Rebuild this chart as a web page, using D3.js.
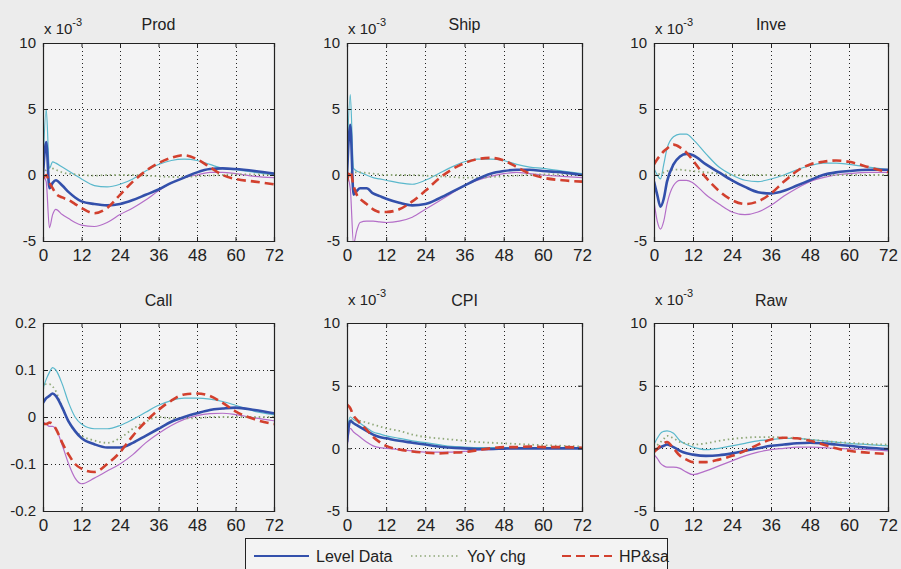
<!DOCTYPE html>
<html>
<head>
<meta charset="utf-8">
<script src="https://cdn.jsdelivr.net/npm/d3@7/dist/d3.min.js"></script>
<style>
  body { margin: 0; background: #ececec; }
  svg { display: block; font-family: 'Liberation Sans', Arial, sans-serif; }
</style>
</head>
<body>
<div id="chart"></div>
<script>
/* globals d3 */

// horizon in months
let months = [0, 1, 2, 3, 4, 6, 8, 10, 12, 16, 20, 24, 28, 32, 36, 40, 44, 48, 52, 56, 60, 66, 72]
let xTicks = [0, 12, 24, 36, 48, 60, 72]
let seriesNames = ['Level Data', 'YoY chg', 'HP&sa']

// values in units of 1e-3 (except Call)
let prodLevel = [0, 2.5, -1.0, -0.6, -0.4, -0.8, -1.3, -1.7, -2.0, -2.2, -2.3, -2.2, -1.9, -1.5, -1.1, -0.6, -0.2, 0.2, 0.45, 0.5, 0.45, 0.3, 0.1]
let prodYoy = [0, 0.4, 0.6, 0.5, 0.4, 0.2, 0.1, 0.05, 0, -0.05, 0, 0, 0, -0.05, -0.1, -0.15, -0.15, -0.1, -0.05, 0, 0.05, 0.05, 0]
let prodHp = [-0.3, 0, -0.6, -1.0, -1.4, -1.7, -1.9, -2.2, -2.5, -2.9, -2.5, -1.5, -0.5, 0.3, 0.9, 1.3, 1.5, 1.2, 0.6, 0.0, -0.3, -0.5, -0.7]
let prodUp = [0.5, 5.0, 0.5, 1.0, 0.9, 0.6, 0.3, 0.0, -0.3, -0.8, -0.9, -0.7, -0.3, 0.3, 0.8, 1.1, 1.2, 1.1, 0.8, 0.5, 0.4, 0.2, 0.0]
let prodLo = [0, -0.5, -4.0, -3.0, -2.6, -3.0, -3.3, -3.6, -3.8, -3.9, -3.6, -3.0, -2.5, -1.9, -1.2, -0.6, -0.2, 0.0, 0.2, 0.2, 0.1, -0.1, -0.2]

let shipLevel = [0, 3.8, -1.5, -1.2, -1.0, -1.0, -1.4, -1.6, -1.8, -2.1, -2.3, -2.2, -1.8, -1.3, -0.8, -0.3, 0.1, 0.3, 0.4, 0.4, 0.3, 0.2, 0.0]
let shipYoy = [0, 0.2, 0.2, 0.2, 0.2, 0.15, 0.1, 0.05, 0, 0, 0, -0.05, -0.1, -0.15, -0.2, -0.2, -0.15, -0.1, -0.05, 0, 0.05, 0.05, 0]
let shipHp = [-0.5, 0.3, -0.8, -1.5, -1.8, -2.2, -2.6, -2.8, -2.8, -2.6, -2.0, -1.2, -0.3, 0.4, 0.9, 1.2, 1.3, 1.1, 0.6, 0.1, -0.2, -0.4, -0.5]
let shipUp = [1, 6.1, 0.5, 0.3, 0.2, 0.0, -0.2, -0.3, -0.4, -0.6, -0.7, -0.4, 0.1, 0.6, 1.0, 1.2, 1.2, 1.1, 0.8, 0.6, 0.5, 0.3, 0.1]
let shipLo = [0, -1, -5.2, -4.2, -3.6, -3.5, -3.5, -3.55, -3.6, -3.5, -3.2, -2.6, -2.0, -1.4, -0.8, -0.4, -0.1, 0.1, 0.2, 0.1, 0.0, -0.1, -0.2]

let inveLevel = [-0.5, -1.5, -2.4, -1.8, -0.5, 0.8, 1.4, 1.6, 1.5, 0.8, 0.2, -0.4, -0.9, -1.3, -1.4, -1.2, -0.8, -0.4, 0.0, 0.2, 0.3, 0.4, 0.4]
let inveYoy = [0, 0.05, 0.1, 0.2, 0.3, 0.4, 0.4, 0.35, 0.3, 0.2, 0.1, 0, 0, 0, 0, -0.05, -0.1, -0.1, -0.05, 0, 0, 0, 0]
let inveHp = [0.8, 1.2, 1.5, 1.8, 2.0, 2.3, 2.1, 1.7, 1.1, -0.2, -1.2, -1.9, -2.2, -2.0, -1.4, -0.5, 0.3, 0.8, 1.0, 1.1, 1.0, 0.6, 0.2]
let inveUp = [0.5, 0, -0.3, 0.8, 2.0, 2.9, 3.1, 3.1, 2.7, 1.6, 0.6, 0, -0.4, -0.5, -0.3, 0, 0.4, 0.7, 0.9, 0.9, 0.8, 0.6, 0.4]
let inveLo = [-2, -3.5, -4.1, -3.5, -2.2, -0.8, -0.4, -0.4, -0.6, -1.5, -2.2, -2.8, -3.0, -2.8, -2.3, -1.6, -1.0, -0.5, -0.2, 0, 0.1, 0.2, 0.2]

let callLevel = [0.03, 0.04, 0.045, 0.05, 0.045, 0.02, -0.01, -0.03, -0.045, -0.058, -0.065, -0.065, -0.055, -0.04, -0.025, -0.01, 0, 0.008, 0.015, 0.018, 0.02, 0.015, 0.008]
let callYoy = [0.06, 0.07, 0.07, 0.065, 0.055, 0.02, -0.01, -0.03, -0.04, -0.05, -0.055, -0.045, -0.025, -0.01, 0, -0.003, -0.003, -0.003, 0, 0, 0, 0, 0]
let callHp = [-0.015, -0.015, -0.012, -0.015, -0.025, -0.055, -0.08, -0.1, -0.11, -0.117, -0.1, -0.075, -0.04, -0.01, 0.015, 0.035, 0.048, 0.05, 0.045, 0.03, 0.012, -0.005, -0.015]
let callUp = [0.06, 0.08, 0.095, 0.105, 0.1, 0.07, 0.03, 0, -0.015, -0.025, -0.025, -0.018, -0.005, 0.01, 0.025, 0.035, 0.04, 0.04, 0.038, 0.033, 0.025, 0.012, 0.005]
let callLo = [-0.01, -0.015, -0.02, -0.02, -0.025, -0.06, -0.1, -0.13, -0.142, -0.13, -0.115, -0.1, -0.08, -0.055, -0.035, -0.018, -0.005, 0.003, 0.007, 0.008, 0.005, -0.002, -0.008]

let cpiLevel = [0.5, 2.2, 2.0, 1.85, 1.7, 1.4, 1.1, 0.9, 0.8, 0.6, 0.45, 0.3, 0.15, 0.05, 0, -0.05, -0.05, -0.02, 0, 0, 0, 0, 0]
let cpiYoy = [2.0, 2.2, 2.3, 2.25, 2.2, 2.05, 1.9, 1.75, 1.6, 1.4, 1.1, 0.9, 0.8, 0.7, 0.6, 0.5, 0.45, 0.4, 0.35, 0.3, 0.25, 0.2, 0.15]
let cpiHp = [3.5, 3.2, 2.6, 2.3, 2.0, 1.5, 0.9, 0.5, 0.2, -0.1, -0.25, -0.35, -0.4, -0.35, -0.3, -0.15, 0, 0.1, 0.1, 0.15, 0.1, 0.1, 0.05]
let cpiUp = [1.5, 2.5, 2.3, 2.15, 2.0, 1.65, 1.3, 1.15, 1.0, 0.8, 0.6, 0.45, 0.3, 0.15, 0.1, 0.05, 0.05, 0.05, 0.05, 0.05, 0.05, 0.05, 0.05]
let cpiLo = [0, 1.6, 1.3, 1.1, 0.9, 0.5, 0.2, 0.05, 0, -0.1, -0.2, -0.3, -0.3, -0.3, -0.25, -0.15, -0.1, -0.05, 0, 0, 0, 0, 0]

let rawLevel = [-0.2, -0.05, 0.1, 0.2, 0.3, 0.1, -0.2, -0.4, -0.5, -0.6, -0.55, -0.4, -0.2, 0, 0.2, 0.3, 0.4, 0.45, 0.4, 0.3, 0.2, 0.05, -0.05]
let rawYoy = [0, 0.25, 0.5, 0.75, 1.0, 0.8, 0.5, 0.4, 0.3, 0.4, 0.6, 0.75, 0.85, 0.9, 0.9, 0.85, 0.8, 0.7, 0.6, 0.5, 0.45, 0.35, 0.3]
let rawHp = [-0.3, -0.05, 0.2, 0.4, 0.5, 0, -0.6, -0.9, -1.1, -1.1, -0.9, -0.6, -0.2, 0.3, 0.7, 0.85, 0.8, 0.6, 0.3, 0, -0.2, -0.35, -0.45]
let rawUp = [0.3, 0.8, 1.2, 1.35, 1.4, 1.2, 0.6, 0.3, 0.1, -0.1, 0, 0.2, 0.4, 0.6, 0.7, 0.8, 0.8, 0.7, 0.6, 0.5, 0.4, 0.3, 0.2]
let rawLo = [-0.5, -0.8, -1.2, -1.4, -1.5, -1.5, -1.6, -1.9, -2.1, -1.8, -1.4, -1.0, -0.6, -0.3, -0.1, 0, 0.1, 0.1, 0.05, 0, -0.05, -0.1, -0.2]

let smallTicks = [-5, 0, 5, 10]
let callTicks = [-0.2, -0.1, 0, 0.1, 0.2]

let panels = [
  { title: 'Prod', sci: true, ticks: smallTicks, level: prodLevel, yoy: prodYoy, hp: prodHp, up: prodUp, lo: prodLo },
  { title: 'Ship', sci: true, ticks: smallTicks, level: shipLevel, yoy: shipYoy, hp: shipHp, up: shipUp, lo: shipLo },
  { title: 'Inve', sci: true, ticks: smallTicks, level: inveLevel, yoy: inveYoy, hp: inveHp, up: inveUp, lo: inveLo },
  { title: 'Call', sci: false, ticks: callTicks, level: callLevel, yoy: callYoy, hp: callHp, up: callUp, lo: callLo },
  { title: 'CPI', sci: true, ticks: smallTicks, level: cpiLevel, yoy: cpiYoy, hp: cpiHp, up: cpiUp, lo: cpiLo },
  { title: 'Raw', sci: true, ticks: smallTicks, level: rawLevel, yoy: rawYoy, hp: rawHp, up: rawUp, lo: rawLo }
]

let width = 901
let height = 569
let colX = [[43, 274], [347, 582], [654, 888]]
let rowY = [[43, 241], [323, 511]]
let titleGap = [13, 17]
let sciGap = [9, 18]

let blue = '#3350ab'
let red = '#d2402e'
let green = '#8fa878'
let cyan = '#5ab8cc'
let magenta = '#b46ec8'

let svg = d3.select('#chart').append('svg').attr('width', width).attr('height', height)
svg.append('rect').attr('width', width).attr('height', height).attr('fill', '#ececec')

function tickText (d, sci) {
  if (sci || d === 0) return String(d)
  return d.toFixed(1)
}

panels.forEach(function (p, i) {
  let row = Math.floor(i / 3)
  let cx = colX[i % 3]
  let ry = rowY[row]
  let x = d3.scaleLinear().domain([0, 72]).range(cx)
  let y = d3.scaleLinear().domain(d3.extent(p.ticks)).range([ry[1], ry[0]])
  let g = svg.append('g')

  g.append('rect')
      .attr('x', cx[0]).attr('y', ry[0])
      .attr('width', cx[1] - cx[0]).attr('height', ry[1] - ry[0])
      .attr('fill', '#f3f3f4')

  let clipId = 'clip' + i
  g.append('clipPath').attr('id', clipId).append('rect')
      .attr('x', cx[0]).attr('y', ry[0])
      .attr('width', cx[1] - cx[0]).attr('height', ry[1] - ry[0])

  // dotted grid
  let grid = g.append('g').attr('stroke', '#222').attr('stroke-width', 1).attr('stroke-dasharray', '1,3')
  grid.selectAll('.vg').data(xTicks.slice(1, -1)).enter().append('line')
      .attr('x1', (d) => Math.round(x(d)) + 0.5).attr('x2', (d) => Math.round(x(d)) + 0.5)
      .attr('y1', ry[0]).attr('y2', ry[1])
  grid.selectAll('.hg').data(p.ticks.slice(1, -1)).enter().append('line')
      .attr('y1', (d) => Math.round(y(d)) + 0.5).attr('y2', (d) => Math.round(y(d)) + 0.5)
      .attr('x1', cx[0]).attr('x2', cx[1])

  let line = d3.line()
      .x((d, j) => x(months[j]))
      .y((d) => y(d))
      .curve(d3.curveMonotoneX)

  let lines = g.append('g').attr('clip-path', 'url(#' + clipId + ')').attr('fill', 'none')
  lines.append('path').attr('d', line(p.up)).attr('stroke', cyan).attr('stroke-width', 1.2)
  lines.append('path').attr('d', line(p.lo)).attr('stroke', magenta).attr('stroke-width', 1.2)
  lines.append('path').attr('d', line(p.yoy)).attr('stroke', green).attr('stroke-width', 1.8).attr('stroke-dasharray', '1.5,3')
  lines.append('path').attr('d', line(p.level)).attr('stroke', blue).attr('stroke-width', 2.6)
  lines.append('path').attr('d', line(p.hp)).attr('stroke', red).attr('stroke-width', 2.6).attr('stroke-dasharray', '9,5')

  // axes, MATLAB style ticks pointing inward
  let xAxis = d3.axisBottom(x).tickValues(xTicks).tickSize(-4).tickPadding(8).tickFormat((d) => String(d))
  let yAxis = d3.axisLeft(y).tickValues(p.ticks).tickSize(-4).tickPadding(7)
      .tickFormat((d) => tickText(d, p.sci))

  let ax = g.append('g').attr('transform', 'translate(0,' + ry[1] + ')').call(xAxis)
  ax.selectAll('text').attr('font-size', 17).attr('fill', '#222')
  let ay = g.append('g').attr('transform', 'translate(' + cx[0] + ',0)').call(yAxis)
  ay.selectAll('text').attr('font-size', 15).attr('fill', '#222')
  g.append('g').attr('transform', 'translate(0,' + ry[0] + ')')
      .call(d3.axisTop(x).tickValues(xTicks).tickSize(-4).tickFormat(''))
  g.append('g').attr('transform', 'translate(' + cx[1] + ',0)')
      .call(d3.axisRight(y).tickValues(p.ticks).tickSize(-4).tickFormat(''))
  g.selectAll('.domain').attr('stroke', '#222').attr('stroke-width', 1.2)
  g.selectAll('.tick line').attr('stroke', '#222')

  g.append('text')
      .attr('x', (cx[0] + cx[1]) / 2).attr('y', ry[0] - titleGap[row])
      .attr('text-anchor', 'middle').attr('font-size', 16).attr('fill', '#222')
      .text(p.title)

  if (p.sci) {
    let t = g.append('text').attr('x', cx[0] + 1).attr('y', ry[0] - sciGap[row]).attr('font-size', 15).attr('fill', '#222')
    t.append('tspan').text('x 10')
    t.append('tspan').attr('dy', -8).attr('font-size', 11).text('-3')
  }
})

// legend
let legend = svg.append('g')
legend.append('rect').attr('x', 245.5).attr('y', 538.5).attr('width', 422).attr('height', 40)
    .attr('fill', '#f3f3f3').attr('stroke', '#222').attr('stroke-width', 1)
let legendItems = [
  { name: seriesNames[0], color: blue, dash: null, w: 2, x0: 254, x1: 309 },
  { name: seriesNames[1], color: green, dash: '1.5,3', w: 1.5, x0: 411, x1: 460 },
  { name: seriesNames[2], color: red, dash: '9,5', w: 2, x0: 562, x1: 612 }
]
legendItems.forEach(function (d) {
  legend.append('line').attr('x1', d.x0).attr('x2', d.x1).attr('y1', 556).attr('y2', 556)
      .attr('stroke', d.color).attr('stroke-width', d.w).attr('stroke-dasharray', d.dash)
  legend.append('text').attr('x', d.x1 + 7).attr('y', 562).attr('font-size', 16).attr('fill', '#222').text(d.name)
})
</script>
</body>
</html>
